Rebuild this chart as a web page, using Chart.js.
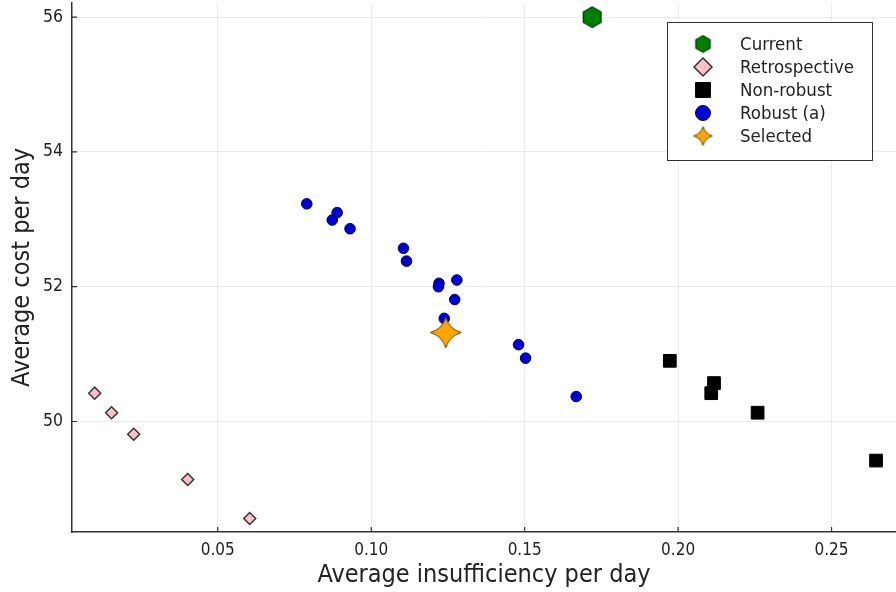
<!DOCTYPE html>
<html>
<head>
<meta charset="utf-8">
<script src="https://cdn.jsdelivr.net/npm/chart.js@4.4.0/dist/chart.umd.min.js"></script>
<style>
html, body { margin: 0; padding: 0; background: #fff; }
#wrap { width: 896px; height: 592px; }
</style>
</head>
<body>
<div id="wrap"><canvas id="chart"></canvas></div>
<script>
// series values
const currentX = [0.172];
const currentY = [56.0];

const retroX = [0.0099, 0.0154, 0.0226, 0.0402, 0.0604];
const retroY = [50.42, 50.13, 49.81, 49.14, 48.56];

const nonRobustX = [0.1973, 0.2117, 0.2108, 0.2259, 0.2645];
const nonRobustY = [50.90, 50.57, 50.42, 50.13, 49.42];

const robustX = [0.0790, 0.0889, 0.0873, 0.0931, 0.1105, 0.1115, 0.1221, 0.1219, 0.1279, 0.1272, 0.1238, 0.1480, 0.1503, 0.1668];
const robustY = [53.23, 53.10, 52.99, 52.86, 52.57, 52.38, 52.05, 52.00, 52.10, 51.81, 51.53, 51.14, 50.94, 50.37];

const selectedX = [0.1243];
const selectedY = [51.32];

const xTicks = [0.05, 0.10, 0.15, 0.20, 0.25];
const yTicks = [50, 52, 54, 56];

const FONT = "'DejaVu Sans Condensed', 'Liberation Sans Narrow', 'DejaVu Sans', sans-serif";
const TEXT = '#222';

function toPoints(xs, ys) {
    return xs.map((x, i) => ({ x: x, y: ys[i] }));
}

// marker images for shapes chart.js does not have
function hexagonImage(size, fill, stroke) {
    const c = document.createElement('canvas');
    c.width = size; c.height = size;
    const g = c.getContext('2d');
    const r = size / 2 - 1.2;
    g.beginPath();
    for (let i = 0; i < 6; i++) {
        const a = Math.PI / 2 + i * Math.PI / 3;
        const px = size / 2 + r * Math.cos(a);
        const py = size / 2 + r * Math.sin(a);
        if (i === 0) g.moveTo(px, py); else g.lineTo(px, py);
    }
    g.closePath();
    g.fillStyle = fill; g.fill();
    g.lineWidth = 1.2; g.strokeStyle = stroke; g.stroke();
    return c;
}

// four pointed star with curved sides
function starImage(size, fill, stroke) {
    const c = document.createElement('canvas');
    c.width = size; c.height = size;
    const g = c.getContext('2d');
    const m = size / 2;
    const R = m - 1;
    const k = R * 0.22;
    g.beginPath();
    g.moveTo(m, m - R);
    g.quadraticCurveTo(m + k, m - k, m + R, m);
    g.quadraticCurveTo(m + k, m + k, m, m + R);
    g.quadraticCurveTo(m - k, m + k, m - R, m);
    g.quadraticCurveTo(m - k, m - k, m, m - R);
    g.closePath();
    g.fillStyle = fill; g.fill();
    g.lineWidth = 1; g.strokeStyle = stroke; g.stroke();
    return c;
}

const GREEN = '#008000', PINK = '#ffc0cb', BLUE = '#0000d8', ORANGE = '#ffa500';

const series = [
    { label: 'Selected', data: toPoints(selectedX, selectedY), pointStyle: starImage(33, ORANGE, '#5c4300'), legendStyle: starImage(21, ORANGE, '#5c4300'), order: 0 },
    { label: 'Current', data: toPoints(currentX, currentY), pointStyle: hexagonImage(23, GREEN, '#003000'), legendStyle: hexagonImage(19, GREEN, '#003000'), order: 1 },
    { label: 'Retrospective', data: toPoints(retroX, retroY), pointStyle: 'rectRot', radius: 6, fill: PINK, stroke: '#333', bw: 1.5, legendRadius: 9, order: 2 },
    { label: 'Non-robust', data: toPoints(nonRobustX, nonRobustY), pointStyle: 'rect', radius: 9, fill: '#000', stroke: '#000', bw: 1, legendRadius: 10.5, order: 3 },
    { label: 'Robust (a)', data: toPoints(robustX, robustY), pointStyle: 'circle', radius: 5.3, fill: BLUE, stroke: '#000050', bw: 1, legendRadius: 7.5, order: 4 }
];

const legendOrder = ['Current', 'Retrospective', 'Non-robust', 'Robust (a)', 'Selected'];

const datasets = series.map(s => ({
    label: s.label,
    data: s.data,
    pointStyle: s.pointStyle,
    pointRadius: s.radius || 10,
    backgroundColor: s.fill || '#000',
    borderColor: s.stroke || '#000',
    borderWidth: s.bw || 0,
    order: s.order
}));

// legend box inside the plot, top right
const legendBox = {
    id: 'legendBox',
    afterDraw(chart) {
        const { ctx, chartArea } = chart;
        const w = 205, h = 138;
        const x0 = chartArea.right - 24 - w;
        const y0 = chartArea.top + 19;
        ctx.save();
        ctx.fillStyle = '#fff';
        ctx.fillRect(x0, y0, w, h);
        ctx.strokeStyle = '#333';
        ctx.lineWidth = 1;
        ctx.strokeRect(x0 + 0.5, y0 + 0.5, w, h);
        legendOrder.forEach((name, i) => {
            const s = series.find(d => d.label === name);
            const cy = y0 + 22 + i * 23;
            const cx = x0 + 36;
            if (typeof s.pointStyle === 'string') {
                ctx.fillStyle = s.fill;
                ctx.strokeStyle = s.stroke;
                ctx.lineWidth = s.bw;
                Chart.helpers.drawPoint(ctx, { pointStyle: s.pointStyle, radius: s.legendRadius, rotation: 0, borderWidth: s.bw }, cx, cy);
            } else {
                const img = s.legendStyle;
                ctx.drawImage(img, cx - img.width / 2, cy - img.height / 2);
            }
            ctx.fillStyle = TEXT;
            ctx.font = '18.5px ' + FONT;
            ctx.textBaseline = 'middle';
            ctx.textAlign = 'left';
            ctx.fillText(name, x0 + 73, cy + 1);
        });
        ctx.restore();
    }
};

// small tick marks pointing into the plot
const innerTicks = {
    id: 'innerTicks',
    afterDatasetsDraw(chart) {
        const { ctx, chartArea, scales } = chart;
        ctx.save();
        ctx.strokeStyle = '#333';
        ctx.lineWidth = 1.2;
        ctx.beginPath();
        xTicks.forEach(v => {
            const px = scales.x.getPixelForValue(v);
            ctx.moveTo(px, chartArea.bottom);
            ctx.lineTo(px, chartArea.bottom - 5);
        });
        yTicks.forEach(v => {
            const py = scales.y.getPixelForValue(v);
            ctx.moveTo(chartArea.left, py);
            ctx.lineTo(chartArea.left + 5, py);
        });
        ctx.stroke();
        ctx.restore();
    }
};

const ctx = document.getElementById('chart').getContext('2d');
new Chart(ctx, {
    type: 'scatter',
    data: { datasets: datasets },
    options: {
        responsive: true,
        maintainAspectRatio: false,
        animation: false,
        events: [],
        layout: { autoPadding: false, padding: { top: 3, right: 0, left: 0, bottom: 0 } },
        plugins: {
            legend: { display: false },
            tooltip: { enabled: false }
        },
        scales: {
            x: {
                type: 'linear',
                min: 0.0025,
                max: 0.271,
                afterBuildTicks: s => { s.ticks = xTicks.map(v => ({ value: v })); },
                afterFit: s => { s.height = 60; s.paddingLeft = 0; s.paddingRight = 0; },
                grid: { color: 'rgba(0,0,0,0.08)', drawTicks: false },
                border: { color: '#333', width: 1.5 },
                ticks: {
                    color: TEXT, padding: 8, maxRotation: 0, autoSkip: false,
                    font: { family: FONT, size: 17 },
                    callback: v => v.toFixed(2)
                },
                title: {
                    display: true, text: 'Average insufficiency per day', color: TEXT,
                    font: { family: FONT, size: 25 }, padding: { top: 0, bottom: 2 }
                }
            },
            y: {
                type: 'linear',
                min: 48.36,
                max: 56.21,
                afterBuildTicks: s => { s.ticks = yTicks.map(v => ({ value: v })); },
                afterFit: s => { s.width = 72; s.paddingTop = 0; s.paddingBottom = 0; },
                grid: { color: 'rgba(0,0,0,0.08)', drawTicks: false },
                border: { color: '#333', width: 1.5 },
                ticks: {
                    color: TEXT, padding: 9, autoSkip: false,
                    font: { family: FONT, size: 17.5 },
                    callback: v => String(v)
                },
                title: {
                    display: true, text: 'Average cost per day', color: TEXT,
                    font: { family: FONT, size: 25 }, padding: { top: 7, bottom: 0 }
                }
            }
        }
    },
    plugins: [legendBox, innerTicks]
});
</script>
</body>
</html>
